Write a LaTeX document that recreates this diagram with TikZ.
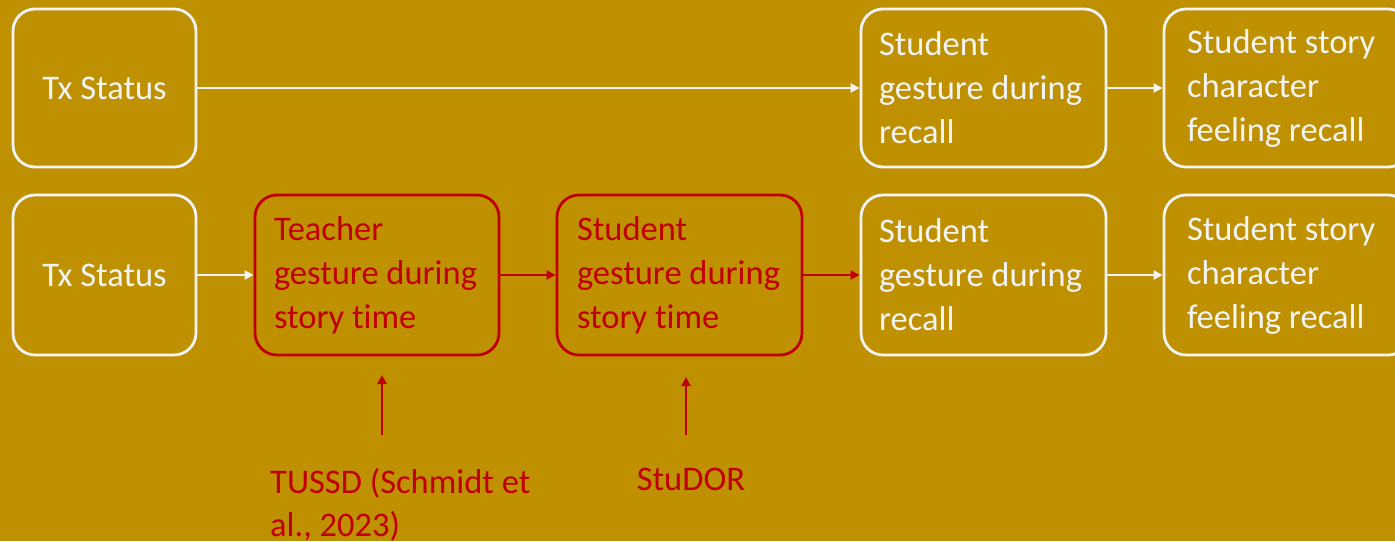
\documentclass[tikz,border=0pt]{standalone}
\usepackage{fontspec}
\setmainfont[Ligatures={NoCommon}]{Carlito}
\usetikzlibrary{arrows.meta}
\definecolor{bg}{HTML}{BF9000}
\definecolor{rd}{HTML}{C00000}
\definecolor{wt}{HTML}{F4F4F4}
\hyphenpenalty=10000
\tikzset{
  box/.style={draw=wt, line width=2.8pt, rounded corners=22pt, minimum height=158pt, text=wt,
    font=\fontsize{34.5}{44}\selectfont, inner xsep=18pt, inner ysep=0pt, align=flush left},
  redbox/.style={box, draw=rd, text=rd},
  warr/.style={draw=wt, line width=2.4pt, -{Triangle[length=9pt,width=9pt]}},
  rarr/.style={warr, draw=rd, fill=rd},
  lbl/.style={text=rd, font=\fontsize{34.5}{43}\selectfont, inner sep=0pt, align=flush left}
}
\begin{document}
\begin{tikzpicture}[x=1pt,y=-1pt]
\fill[bg] (0,0) rectangle (1395,541);
\useasboundingbox (0,0) rectangle (1395,541);
% row 1
\node[box, minimum width=183pt, align=center, inner xsep=0pt] (tx1) at (104.5,88) {Tx Status};
\node[box, minimum width=245pt, text width=209pt] (rec1) at (983.5,88) {Student\\gesture during\\recall};
\node[box, minimum width=246pt, text width=200pt, inner xsep=23pt] (feel1) at (1287,88) {Student story\\character\\feeling recall};
% row 2
\node[box, minimum width=183pt, minimum height=160pt, align=center, inner xsep=0pt] (tx2) at (104.5,275) {Tx Status};
\node[redbox, minimum width=244pt, minimum height=160pt, text width=206pt, inner xsep=19pt] (teach) at (377,275) {Teacher\\gesture during\\story time};
\node[redbox, minimum width=245pt, minimum height=160pt, text width=205pt, inner xsep=20pt] (stud) at (679.5,275) {Student\\gesture during\\story time};
\node[box, minimum width=245pt, minimum height=160pt, text width=209pt] (rec2) at (983.5,275) {Student\\gesture during\\recall};
\node[box, minimum width=246pt, minimum height=160pt, text width=200pt, inner xsep=23pt] (feel2) at (1287,275) {Student story\\character\\feeling recall};
% arrows
\draw[warr] (tx1) -- (rec1);
\draw[warr] (rec1) -- (feel1);
\draw[warr] (tx2) -- (teach);
\draw[rarr] (teach) -- (stud);
\draw[rarr] (stud) -- (rec2);
\draw[warr] (rec2) -- (feel2);
% source labels
\node[lbl, anchor=north west] (tussd) at (270,468) {TUSSD (Schmidt et\\al., 2023)};
\node[lbl, anchor=north] (studor) at (691,468) {StuDOR};
\coordinate (a1s) at (382,435);
\coordinate (a1e) at (382,375);
\coordinate (a2s) at (686,435);
\coordinate (a2e) at (686,377);
\draw[rarr] (a1s) -- (a1e);
\draw[rarr] (a2s) -- (a2e);
\end{tikzpicture}
\end{document}
